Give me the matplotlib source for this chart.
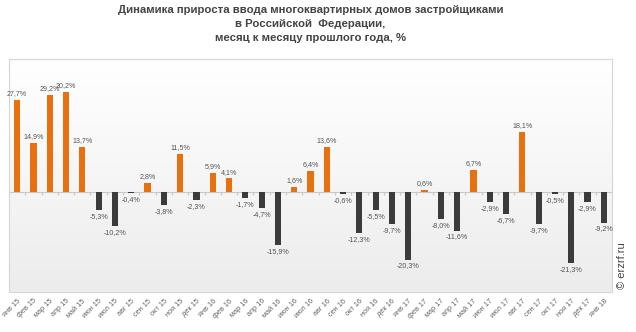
import numpy as np
import matplotlib
matplotlib.use("Agg")
import matplotlib.pyplot as plt

MONTHS = ["янв", "фев", "мар", "апр", "май", "июн",
          "июл", "авг", "сен", "окт", "ноя", "дек"]
LABELS = [f"{MONTHS[i % 12]} {15 + i // 12}" for i in range(37)]

VALUES = [27.7, 14.9, 29.2, 30.2, 13.7, -5.3, -10.2, -0.4, 2.8, -3.8, 11.5, -2.3,
          5.9, 4.1, -1.7, -4.7, -15.9, 1.6, 6.4, 13.6, -0.6, -12.3, -5.5, -9.7,
          -20.3, 0.6, -8.0, -11.6, 6.7, -2.9, -6.7, 18.1, -9.7, -0.5, -21.3, -2.9,
          -9.2]

ORANGE = "#e8700e"
DARK = "#3b3b3b"
TEXT = "#555555"

plt.rcParams["font.family"] = ["Liberation Sans", "DejaVu Sans"]

fig = plt.figure(figsize=(6.36, 3.32), dpi=100)
ax = fig.add_axes([9 / 636, 40 / 332, 603 / 636, 233 / 332])

ymin, ymax = -30, 40
n = len(VALUES)
ax.set_xlim(-0.5, n - 0.5)
ax.set_ylim(ymin, ymax)

# gradient background of the plot area
grad = np.linspace(1.0, 0.0, 256).reshape(-1, 1)
ax.imshow(grad, extent=(-0.5, n - 0.5, ymin, ymax), aspect="auto",
          cmap=matplotlib.colors.LinearSegmentedColormap.from_list(
              "bg", ["#ececec", "#f6f6f6", "#ffffff"]), vmin=0, vmax=1, zorder=0)

x = np.arange(n)
vals = np.array(VALUES)
colors = [ORANGE if v > 0 else DARK for v in vals]
ax.bar(x, vals, width=0.38, color=colors, zorder=3)

# zero line with category ticks
ax.axhline(0, color="#c8c8c8", lw=0.8, zorder=2)
ax.vlines(np.arange(n + 1) - 0.5, -0.9, 0, color="#c8c8c8", lw=0.8, zorder=2)

for xi, v in zip(x, vals):
    lbl = f"{v:.1f}%".replace(".", ",")
    if v > 0:
        ax.annotate(lbl, (xi, v), xytext=(0, 2), textcoords="offset points",
                    ha="center", va="bottom", fontsize=5.1, color=TEXT, zorder=4)
    else:
        ax.annotate(lbl, (xi, v), xytext=(0, -2), textcoords="offset points",
                    ha="center", va="top", fontsize=5.1, color=TEXT, zorder=4)

ax.set_xticks(x)
ax.set_xticklabels(LABELS, rotation=45, ha="right", rotation_mode="anchor",
                   fontsize=5.3, color="#666666")
ax.tick_params(axis="x", length=0, pad=4)
ax.set_yticks([])
for s in ax.spines.values():
    s.set_color("#d6d6d6")
    s.set_linewidth(0.8)

fig.text(0.488, 1 - 5 / 332,
         "Динамика прироста ввода многоквартирных домов застройщиками\n"
         "в Российской  Федерации,\nмесяц к месяцу прошлого года, %",
         ha="center", va="top", fontsize=8.2, fontweight="bold", color="#444444",
         linespacing=1.5)

fig.text(0.978, 0.20, "© erzrf.ru", rotation=90, ha="center", va="center",
         fontsize=8, color="#444444")

fig.savefig("out.png", dpi=100)
